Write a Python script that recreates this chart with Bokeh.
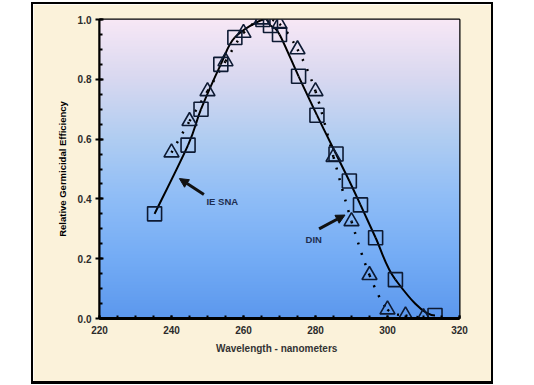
import numpy as np
from bokeh.plotting import figure
from bokeh.layouts import row, column
from bokeh.models import (Arrow, NormalHead, Label, Range1d, Spacer,
                          SingleIntervalTicker, PrintfTickFormatter)
from bokeh.embed import file_html
from bokeh.resources import INLINE

# ---- data ----
iesna_wl = [235.3, 244.6, 248.2, 253.7, 257.6, 265.4, 267.5, 270.0, 275.3,
            280.4, 285.7, 289.4, 292.5, 296.7, 302.2, 313.2]
iesna_eff = [0.35, 0.58, 0.70, 0.85, 0.94, 1.00, 0.98, 0.95, 0.81,
             0.68, 0.55, 0.46, 0.38, 0.27, 0.13, 0.01]
din_wl = [240, 245, 250, 255, 260, 265, 270, 275, 280, 285, 290, 295, 300, 305, 310]
din_eff = [0.555, 0.66, 0.76, 0.86, 0.955, 1.00, 0.985, 0.90, 0.76, 0.54,
           0.325, 0.145, 0.03, 0.01, 0.004]
labels = ["IE SNA", "DIN"]

CREAM = "#fbf2da"

# ---- figure ----
p = figure(width=458, height=377, output_backend="svg", toolbar_location=None,
           x_range=Range1d(220, 320), y_range=Range1d(0, 1),
           min_border_left=66, min_border_right=32, min_border_top=15,
           min_border_bottom=63)
p.border_fill_color = CREAM
p.background_fill_color = None
p.outline_line_color = "black"
p.outline_line_width = 2
p.grid.visible = False

# background gradient (styling only)
stops_pos = np.array([0.0, 0.2, 0.4, 0.6, 0.8, 1.0])
stops_rgb = np.array([[92, 152, 238], [116, 172, 245], [143, 189, 247],
                      [176, 205, 242], [216, 216, 240], [248, 232, 246]])
n = 200
t = np.linspace(0, 1, n)
img = np.zeros((n, 1), dtype=np.uint32)
view = img.view(dtype=np.uint8).reshape((n, 1, 4))
for c in range(3):
    view[:, 0, c] = np.interp(t, stops_pos, stops_rgb[:, c]).astype(np.uint8)
view[:, 0, 3] = 255
p.image_rgba(image=[img], x=220, y=0, dw=100, dh=1)


def catmull(xs, ys, flat_end=False):
    x = np.array(xs, float)
    y = np.array(ys, float)
    xp = np.concatenate([[x[0]], x, [x[-1]]])
    yp = np.concatenate([[y[0]], y, [y[-1]]])
    x0, y0 = x[:-1], y[:-1]
    x1, y1 = x[1:], y[1:]
    cx0 = x0 + (xp[2:-1] - xp[:-3]) / 6
    cy0 = y0 + (yp[2:-1] - yp[:-3]) / 6
    cx1 = x1 - (xp[3:] - xp[1:-2]) / 6
    cy1 = y1 - (yp[3:] - yp[1:-2]) / 6
    if flat_end:
        cx1[-1] = x1[-1] - (x1[-1] - x0[-1]) / 3
        cy1[-1] = y1[-1]
    return dict(x0=x0, y0=y0, x1=x1, y1=y1, cx0=cx0, cy0=cy0, cx1=cx1, cy1=cy1)


b1 = catmull(iesna_wl, iesna_eff, flat_end=True)
p.bezier(line_color="black", line_width=2, **b1)
b2 = catmull(din_wl, din_eff, flat_end=True)
p.bezier(line_color="black", line_width=2.5, line_dash="2 9", **b2)

p.scatter(iesna_wl, iesna_eff, marker="square", size=14, fill_color=None,
          line_color="#0d1a33", line_width=1.6)
p.scatter(din_wl, din_eff, marker="triangle", size=15, fill_color=None,
          line_color="#0d1a33", line_width=1.6)

# annotations
lab_color = "#1e2e50"
p.add_layout(Label(x=254.1, y=0.39, text=labels[0], text_align="center",
                   text_baseline="middle", text_font="Liberation Sans",
                   text_font_style="bold", text_font_size="9.5px",
                   text_color=lab_color))
p.add_layout(Label(x=279.5, y=0.263, text=labels[1], text_align="center",
                   text_baseline="middle", text_font="Liberation Sans",
                   text_font_style="bold", text_font_size="9.5px",
                   text_color=lab_color))
p.add_layout(Arrow(x_start=249, y_start=0.415, x_end=242.2, y_end=0.468,
                   line_width=3, line_color="#111111",
                   end=NormalHead(size=9, fill_color="#111111", line_color="#111111")))
p.add_layout(Arrow(x_start=281, y_start=0.30, x_end=288.2, y_end=0.346,
                   line_width=3, line_color="#111111",
                   end=NormalHead(size=9, fill_color="#111111", line_color="#111111")))

# axes
for ax in (p.xaxis[0], p.yaxis[0]):
    ax.axis_line_color = "black"
    ax.major_tick_line_color = "black"
    ax.minor_tick_line_color = "black"
    ax.major_tick_line_width = 2
    ax.minor_tick_line_width = 2
    ax.major_label_text_font = "Liberation Sans"
    ax.major_label_text_font_style = "bold"
    ax.major_label_text_font_size = "10px"
    ax.major_label_text_color = "#2b2b2b"
    ax.axis_label_text_font = "Liberation Sans"
    ax.axis_label_text_font_style = "bold"

p.xaxis.ticker = SingleIntervalTicker(interval=20, num_minor_ticks=4)
p.yaxis.ticker = SingleIntervalTicker(interval=0.2, num_minor_ticks=4)
p.yaxis.formatter = PrintfTickFormatter(format="%.1f")

p.xaxis.axis_line_width = 3
p.xaxis.major_tick_in = 3
p.xaxis.major_tick_out = 0
p.xaxis.minor_tick_in = 3
p.xaxis.minor_tick_out = 0
p.xaxis.major_label_standoff = 7
p.xaxis.axis_label = "Wavelength  -  nanometers"
p.xaxis.axis_label_text_font_size = "10px"
p.xaxis.axis_label_text_color = "#333333"
p.xaxis.axis_label_standoff = 6

p.yaxis.axis_line_width = 2
p.yaxis.major_tick_in = 4
p.yaxis.major_tick_out = 4
p.yaxis.minor_tick_in = 3
p.yaxis.minor_tick_out = 0
p.yaxis.major_label_standoff = 4
p.yaxis.axis_label = "Relative Germicidal Efficiency"
p.yaxis.axis_label_text_font_size = "9.5px"
p.yaxis.axis_label_text_color = "black"
p.yaxis.axis_label_standoff = 7

# black frame around the figure, built from plain spacers
BLK = {"background-color": "black"}
top_bar = Spacer(width=462, height=2, styles=BLK)
bot_bar = Spacer(width=462, height=3, styles=BLK)
left_bar = Spacer(width=2, height=377, styles=BLK)
right_bar = Spacer(width=2, height=377, styles=BLK)
framed = column(top_bar, row(left_bar, p, right_bar), bot_bar)
page = column(Spacer(width=10, height=2), row(Spacer(width=31, height=10), framed))

open("out.html", "w").write(file_html(page, INLINE))
